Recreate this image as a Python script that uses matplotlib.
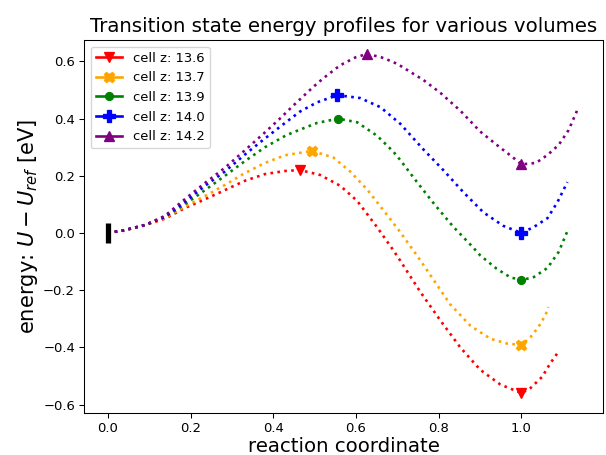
import matplotlib
matplotlib.use("Agg")
import matplotlib.pyplot as plt
from matplotlib.lines import Line2D

labels = ["cell z: 13.6", "cell z: 13.7", "cell z: 13.9", "cell z: 14.0", "cell z: 14.2"]
colors = ["red", "orange", "green", "blue", "purple"]
markers = ["v", "X", "o", "P", "^"]

# reaction coordinate / energy
x_136 = [0.0, 0.041, 0.09, 0.138, 0.186, 0.235, 0.283, 0.332, 0.38, 0.429, 0.465, 0.513, 0.562, 0.603, 0.65, 0.69, 0.707, 0.755, 0.804, 0.852, 0.90, 0.949, 1.0, 1.022, 1.05, 1.07, 1.087]
y_136 = [0.0, 0.010, 0.027, 0.050, 0.087, 0.118, 0.150, 0.183, 0.206, 0.217, 0.220, 0.203, 0.165, 0.112, 0.022, -0.060, -0.097, -0.205, -0.306, -0.400, -0.478, -0.530, -0.560, -0.542, -0.503, -0.455, -0.420]

x_137 = [0.0, 0.041, 0.09, 0.138, 0.186, 0.235, 0.283, 0.332, 0.38, 0.429, 0.494, 0.545, 0.586, 0.627, 0.666, 0.707, 0.748, 0.78, 0.828, 0.877, 0.925, 0.966, 1.0, 1.022, 1.041, 1.058, 1.065]
y_137 = [0.0, 0.010, 0.028, 0.053, 0.092, 0.129, 0.168, 0.210, 0.245, 0.272, 0.287, 0.264, 0.215, 0.152, 0.080, 0.003, -0.080, -0.148, -0.250, -0.325, -0.370, -0.387, -0.392, -0.364, -0.329, -0.287, -0.259]

x_139 = [0.0, 0.041, 0.09, 0.138, 0.186, 0.235, 0.283, 0.332, 0.38, 0.429, 0.448, 0.506, 0.557, 0.603, 0.651, 0.69, 0.707, 0.748, 0.787, 0.835, 0.884, 0.90, 0.94, 0.973, 1.0, 1.03, 1.063, 1.09, 1.114]
y_139 = [0.0, 0.010, 0.028, 0.056, 0.100, 0.150, 0.200, 0.252, 0.300, 0.340, 0.352, 0.385, 0.400, 0.387, 0.340, 0.285, 0.255, 0.177, 0.105, 0.022, -0.052, -0.078, -0.125, -0.155, -0.165, -0.154, -0.122, -0.066, 0.017]

x_140 = [0.0, 0.041, 0.09, 0.138, 0.186, 0.235, 0.283, 0.332, 0.375, 0.424, 0.465, 0.506, 0.555, 0.61, 0.659, 0.707, 0.763, 0.811, 0.86, 0.908, 0.956, 1.0, 1.03, 1.063, 1.087, 1.111]
y_140 = [0.0, 0.010, 0.028, 0.056, 0.108, 0.165, 0.215, 0.275, 0.325, 0.380, 0.425, 0.457, 0.482, 0.472, 0.440, 0.382, 0.292, 0.220, 0.142, 0.072, 0.025, 0.0, 0.021, 0.052, 0.108, 0.178]

x_142 = [0.0, 0.041, 0.09, 0.138, 0.186, 0.235, 0.283, 0.332, 0.38, 0.416, 0.448, 0.465, 0.496, 0.52, 0.554, 0.57, 0.60, 0.627, 0.66, 0.69, 0.707, 0.763, 0.804, 0.852, 0.90, 0.949, 0.978, 1.0, 1.035, 1.063, 1.09, 1.114, 1.138]
y_142 = [0.0, 0.010, 0.028, 0.060, 0.118, 0.175, 0.228, 0.290, 0.352, 0.400, 0.445, 0.468, 0.510, 0.540, 0.578, 0.593, 0.615, 0.626, 0.615, 0.598, 0.585, 0.535, 0.490, 0.428, 0.355, 0.298, 0.266, 0.240, 0.245, 0.273, 0.308, 0.360, 0.440]

# saddle point and final image for each series
saddle_x = [0.465, 0.494, 0.557, 0.555, 0.627]
saddle_y = [0.220, 0.287, 0.400, 0.482, 0.626]
final_x = [1.0, 1.0, 1.0, 1.0, 1.0]
final_y = [-0.560, -0.392, -0.165, 0.0, 0.240]

start_x = [0.0]
start_y = [0.0]

xs = [x_136, x_137, x_139, x_140, x_142]
ys = [y_136, y_137, y_139, y_140, y_142]

xticks = [0.0, 0.2, 0.4, 0.6, 0.8, 1.0]
yticks = [-0.6, -0.4, -0.2, 0.0, 0.2, 0.4, 0.6]

fig = plt.figure(figsize=(6.4, 4.806))
ax = fig.add_axes([0.139, 0.092, 0.856, 0.820])

msize = [8, 8, 6, 9, 8]
handles = []
for i in range(5):
    ax.plot(xs[i], ys[i], linestyle=":", linewidth=2, color=colors[i])
    ax.plot([saddle_x[i], final_x[i]], [saddle_y[i], final_y[i]], linestyle="none",
            marker=markers[i], markersize=msize[i], color=colors[i])
    handles.append(Line2D([], [], color=colors[i], linestyle="-", linewidth=2,
                          marker=markers[i], markersize=msize[i]))

ax.plot(start_x, start_y, marker="|", markersize=15, markeredgewidth=4,
        color="black", linestyle="none")

ax.set_xlim(-0.057, 1.197)
ax.set_ylim(-0.63, 0.675)
ax.set_xticks(xticks)
ax.set_yticks(yticks)
ax.tick_params(labelsize=10)
ax.set_xlabel("reaction coordinate", fontsize=15, labelpad=1)
ax.set_ylabel(r"energy: $U-U_{ref}$ [eV]", fontsize=16, labelpad=2)
ax.set_title("Transition state energy profiles for various volumes", fontsize=15)
ax.legend(handles, labels, loc="upper left", fontsize=10)

fig.savefig("out.png", dpi=94.6875)
